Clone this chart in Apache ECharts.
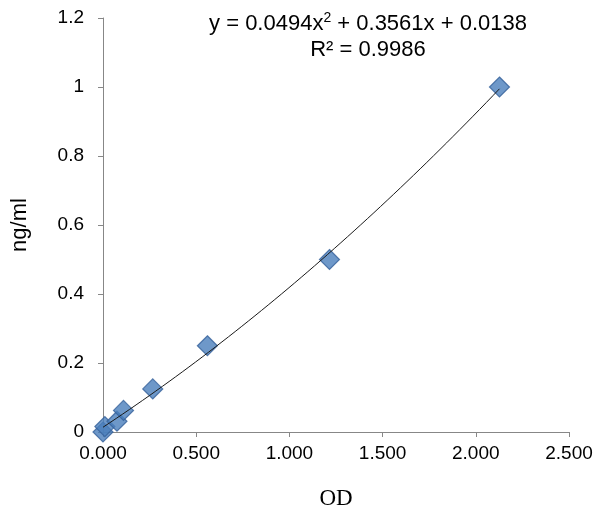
<!DOCTYPE html>
<html>
<head>
<meta charset="utf-8">
<script src="https://cdn.jsdelivr.net/npm/echarts@6/dist/echarts.min.js"></script>
<style>html,body{margin:0;padding:0;background:#fff}#c{width:600px;height:521px}</style>
</head>
<body>
<div id="c"></div>
<script>
// Data
var odValues   = [0.000, 0.010, 0.075, 0.110, 0.267, 0.560, 1.215, 2.127];
var concValues = [0.000, 0.0156, 0.03125, 0.0625, 0.125, 0.25, 0.5, 1.0];
// Trendline coefficients shown on the chart: y = a x^2 + b x + c
var trendCoef = [0.0494, 0.3561, 0.0138];
var rSquared = 0.9986;
var xTicks = [0, 0.5, 1, 1.5, 2, 2.5];
var yTicks = [0, 0.2, 0.4, 0.6, 0.8, 1, 1.2];

var points = odValues.map(function (x, i) { return [x, concValues[i]]; });
var xmin = Math.min.apply(null, odValues), xmax = Math.max.apply(null, odValues);
var trend = [];
for (var k = 0; k <= 60; k++) {
  var x = xmin + (xmax - xmin) * k / 60;
  trend.push([x, trendCoef[0] * x * x + trendCoef[1] * x + trendCoef[2]]);
}

var axisGray = '#878787';
var chart = echarts.init(document.getElementById('c'), null, {renderer: 'canvas'});
chart.setOption({
  animation: false,
  backgroundColor: '#fff',
  grid: {left: 103, right: 31, top: 18, bottom: 89, containLabel: false},
  xAxis: {
    type: 'value', min: xTicks[0], max: xTicks[xTicks.length - 1], interval: 0.5,
    name: 'OD', nameLocation: 'middle', nameGap: 55,
    nameTextStyle: {fontFamily: 'Liberation Serif', fontSize: 23, color: '#000'},
    axisLine: {lineStyle: {color: axisGray, width: 1}},
    axisTick: {show: true, inside: false, length: 5, lineStyle: {color: axisGray}},
    axisLabel: {margin: 12, fontFamily: 'Liberation Sans', fontSize: 19, color: '#000',
      formatter: function (v) { return v.toFixed(3); }},
    splitLine: {show: false}
  },
  yAxis: {
    type: 'value', min: yTicks[0], max: yTicks[yTicks.length - 1], interval: 0.2,
    name: 'ng/ml', nameLocation: 'middle', nameGap: 72, nameRotate: 90,
    nameTextStyle: {fontFamily: 'Liberation Sans', fontSize: 22, color: '#000'},
    axisLine: {show: true, lineStyle: {color: axisGray, width: 1}},
    axisTick: {show: true, inside: false, length: 5, lineStyle: {color: axisGray}},
    axisLabel: {margin: 19, fontFamily: 'Liberation Sans', fontSize: 19, color: '#000',
      formatter: function (v) { return String(+v.toFixed(1)); }},
    splitLine: {show: false}
  },
  series: [
    {
      type: 'line', data: trend, showSymbol: false, smooth: false,
      lineStyle: {color: '#1a1a1a', width: 1}, z: 3, silent: true
    },
    {
      type: 'scatter', data: points, symbol: 'diamond', symbolSize: [20, 20],
      itemStyle: {color: '#4A7EBB', borderColor: '#35609A', borderWidth: 1.2}, z: 2
    }
  ],
  graphic: [{
    type: 'text', x: 368, y: 11,
    style: {
      text: '{a|y = ' + trendCoef[0] + 'x}{s|2}{a| + ' + trendCoef[1] + 'x + ' + trendCoef[2] + '}\n{a|R² = ' + rSquared + '}',
      align: 'center', verticalAlign: 'top', fill: '#000',
      rich: {
        a: {fontFamily: 'Liberation Sans', fontSize: 22, lineHeight: 26, fill: '#000'},
        s: {fontFamily: 'Liberation Sans', fontSize: 14, lineHeight: 26, verticalAlign: 'top', padding: [0, 0, 8, 0], fill: '#000'}
      }
    }
  }]
});
</script>
</body>
</html>
